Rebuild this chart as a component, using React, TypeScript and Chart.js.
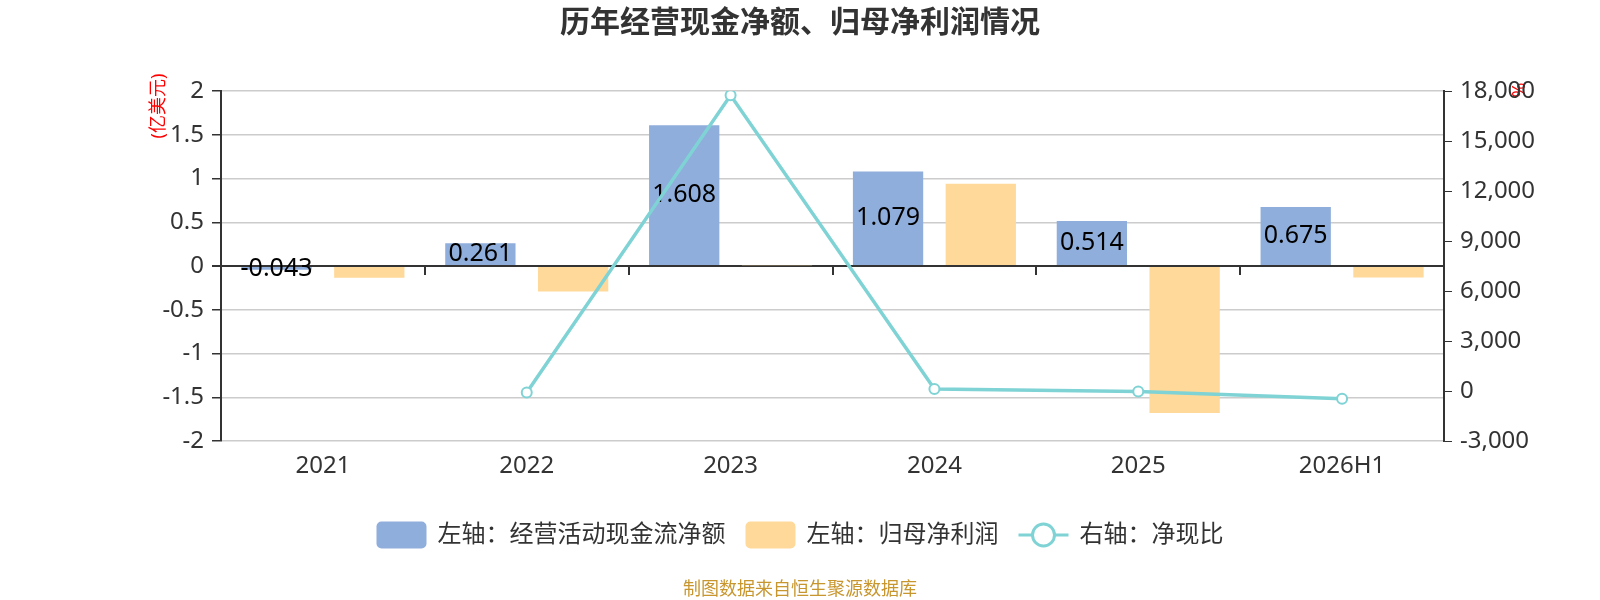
import React, { useEffect, useRef } from "react";
import { Chart, registerables } from "chart.js";

Chart.register(...registerables);

const categories = ["2021", "2022", "2023", "2024", "2025", "2026H1"];
const cashFlowNet = [-0.043, 0.261, 1.608, 1.079, 0.514, 0.675];
const parentNetProfit = [-0.133, -0.29, 0.009, 0.94, -1.68, -0.13];
const cashRatio: (number | null)[] = [null, -87, 17740, 115, -30, -460];
const cashFlowLabels = ["-0.043", "0.261", "1.608", "1.079", "0.514", "0.675"];

const seriesNames = ["左轴：经营活动现金流净额", "左轴：归母净利润", "右轴：净现比"];
const titleText = "历年经营现金净额、归母净利润情况";
const footerText = "制图数据来自恒生聚源数据库";
const leftUnit = "(亿美元)";
const rightUnit = "%";

const BLUE = "#8FAEDB";
const ORANGE = "#FFD999";
const TEAL = "#7FD3D5";
const FONT = '"Noto Sans", "Noto Sans CJK SC", sans-serif';

const decorPlugin = {
  id: "decor",
  beforeDraw(chart: any) {
    const ctx = chart.ctx;
    ctx.save();
    ctx.fillStyle = "#FF0000";
    ctx.font = `18px ${FONT}`;
    ctx.textAlign = "center";
    ctx.textBaseline = "middle";
    ctx.translate(159, 106);
    ctx.rotate(-Math.PI / 2);
    ctx.fillText(leftUnit, 0, 0);
    ctx.restore();
    ctx.save();
    ctx.fillStyle = "#FF0000";
    ctx.font = `18px ${FONT}`;
    ctx.textAlign = "center";
    ctx.textBaseline = "middle";
    ctx.translate(1520, 90);
    ctx.rotate(-Math.PI / 2);
    ctx.fillText(rightUnit, 0, 0);
    ctx.restore();
  },
  afterDatasetDraw(chart: any, args: any) {
    if (args.index !== 0) return;
    const ctx = chart.ctx;
    const meta = chart.getDatasetMeta(0);
    ctx.save();
    ctx.font = `25px ${FONT}`;
    ctx.fillStyle = "#000";
    ctx.textAlign = "center";
    ctx.textBaseline = "middle";
    meta.data.forEach((el: any, i: number) => {
      const y = (el.y + el.base) / 2;
      ctx.fillText(cashFlowLabels[i], el.x, y);
    });
    ctx.restore();
  },
  afterDraw(chart: any) {
    const ctx = chart.ctx;
    const xs = chart.scales.x;
    const yl = chart.scales.y;
    const zeroY = yl.getPixelForValue(0);
    ctx.save();
    ctx.strokeStyle = "#333";
    ctx.lineWidth = 2;
    for (let i = 0; i <= categories.length; i++) {
      const x = Math.round(xs.getPixelForValue(i - 0.5));
      ctx.beginPath();
      ctx.moveTo(x, zeroY);
      ctx.lineTo(x, zeroY + 9);
      ctx.stroke();
    }
    ctx.restore();

    // title
    ctx.save();
    ctx.fillStyle = "#333";
    ctx.font = `bold 30px ${FONT}`;
    ctx.textAlign = "center";
    ctx.textBaseline = "middle";
    ctx.fillText(titleText, 800, 23);
    ctx.restore();

    // legend
    ctx.save();
    ctx.font = `24px ${FONT}`;
    ctx.textBaseline = "middle";
    ctx.textAlign = "left";
    const iconW = 50;
    const gapIcon = 11;
    const gapItem = 20;
    const widths = seriesNames.map((n) => iconW + gapIcon + ctx.measureText(n).width);
    const total = widths.reduce((a, b) => a + b, 0) + gapItem * (widths.length - 1);
    let x = 800 - total / 2;
    const cy = 535;
    const colors = [BLUE, ORANGE, TEAL];
    seriesNames.forEach((name, i) => {
      if (i < 2) {
        ctx.fillStyle = colors[i];
        ctx.beginPath();
        (ctx as any).roundRect(x, cy - 13.5, iconW, 27, 5);
        ctx.fill();
      } else {
        ctx.strokeStyle = TEAL;
        ctx.lineWidth = 3;
        ctx.beginPath();
        ctx.moveTo(x, cy);
        ctx.lineTo(x + iconW, cy);
        ctx.stroke();
        ctx.beginPath();
        ctx.arc(x + iconW / 2, cy, 11, 0, Math.PI * 2);
        ctx.fillStyle = "#fff";
        ctx.fill();
        ctx.stroke();
      }
      ctx.fillStyle = "#333";
      ctx.fillText(name, x + iconW + gapIcon, cy);
      x += widths[i] + gapItem;
    });
    ctx.restore();

    // footer
    ctx.save();
    ctx.fillStyle = "#C8962E";
    ctx.font = `18px ${FONT}`;
    ctx.textAlign = "center";
    ctx.textBaseline = "middle";
    ctx.fillText(footerText, 800, 590);
    ctx.restore();
  },
};

export default function App() {
  const ref = useRef<HTMLCanvasElement | null>(null);
  useEffect(() => {
    if (!ref.current) return;
    const chart = new Chart(ref.current, {
      type: "bar",
      data: {
        labels: categories,
        datasets: [
          {
            type: "bar",
            label: seriesNames[0],
            data: cashFlowNet,
            backgroundColor: BLUE,
            yAxisID: "y",
            order: 1,
            barPercentage: 0.758,
            categoryPercentage: 0.91,
          },
          {
            type: "bar",
            label: seriesNames[1],
            data: parentNetProfit,
            backgroundColor: ORANGE,
            yAxisID: "y",
            order: 1,
            barPercentage: 0.758,
            categoryPercentage: 0.91,
          },
          {
            type: "line",
            label: seriesNames[2],
            data: cashRatio,
            borderColor: TEAL,
            backgroundColor: "#fff",
            borderWidth: 3.5,
            pointRadius: 5,
            pointBorderWidth: 2,
            pointBackgroundColor: "#fff",
            pointBorderColor: TEAL,
            yAxisID: "y1",
            order: 0,
            tension: 0,
          } as any,
        ],
      },
      options: {
        responsive: false,
        animation: false,
        devicePixelRatio: 1,
        layout: { padding: { top: 91, left: 0, right: 0, bottom: 0 } },
        plugins: {
          legend: { display: false },
          title: { display: false },
          tooltip: { enabled: false },
        },
        scales: {
          x: {
            type: "category",
            offset: true,
            grid: { display: false, drawTicks: false },
            border: { display: false },
            ticks: {
              color: "#333",
              font: { size: 24, family: FONT },
              padding: 11,
            },
            afterFit(scale: any) {
              scale.height = 159;
            },
          },
          y: {
            type: "linear",
            position: "left",
            min: -2,
            max: 2,
            ticks: {
              stepSize: 0.5,
              color: "#333",
              font: { size: 24, family: FONT },
              padding: 8,
              callback: (v: any) => String(v),
            },
            grid: {
              color: (c: any) => (c.tick && c.tick.value === 0 ? "#333" : "#CCCCCC"),
              lineWidth: (c: any) => (c.tick && c.tick.value === 0 ? 2 : 1.5),
              tickColor: "#333",
              tickLength: 9,
            },
            border: { display: true, color: "#333", width: 2 },
            afterFit(scale: any) {
              scale.width = 221;
            },
          },
          y1: {
            type: "linear",
            position: "right",
            min: -3000,
            max: 18000,
            ticks: {
              stepSize: 3000,
              color: "#333",
              font: { size: 24, family: FONT },
              padding: 8,
              callback: (v: any) => Number(v).toLocaleString("en-US"),
            },
            grid: {
              drawOnChartArea: false,
              tickColor: "#333",
              tickLength: 8,
            },
            border: { display: true, color: "#333", width: 2 },
            afterFit(scale: any) {
              scale.width = 156;
            },
          },
        },
      },
      plugins: [decorPlugin],
    });
    return () => chart.destroy();
  }, []);
  return (
    <div style={{ position: "fixed", left: 0, top: 0, width: 1600, height: 600, background: "#fff" }}>
      <canvas ref={ref} width={1600} height={600} style={{ width: 1600, height: 600, display: "block" }} />
    </div>
  );
}
